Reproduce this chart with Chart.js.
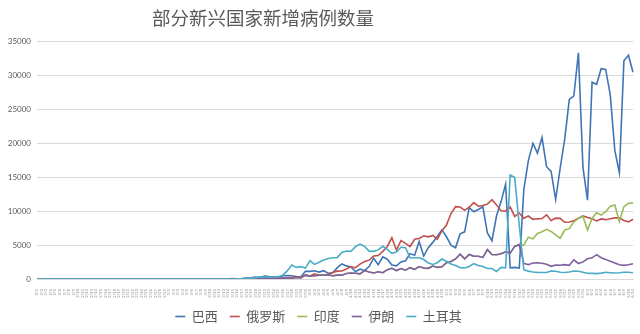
<!DOCTYPE html>
<html>
<head>
<meta charset="utf-8">
<script src="https://cdn.jsdelivr.net/npm/chart.js@4.4.0/dist/chart.umd.min.js"></script>
<style>
  html, body { margin: 0; padding: 0; background: #fff; }
  #wrap { position: relative; width: 640px; height: 334px; }
  #title {
    position: absolute; left: 0; top: 5px; width: 526px;
    text-align: center; line-height: 24px;
    font-family: "Noto Sans CJK SC", sans-serif; font-size: 18.5px; color: #595959;
  }
</style>
</head>
<body>
<div id="wrap">
  <div id="title">部分新兴国家新增病例数量</div>
  <canvas id="chart" width="640" height="334"></canvas>
</div>
<script>
// Dates: 2/1 .. 6/11
const months = [2, 3, 4, 5, 6];
const monthDays = [29, 31, 30, 31, 11];
const dates = [];
months.forEach((m, k) => {
    for (let d = 1; d <= monthDays[k]; d++) dates.push(m + '/' + d);
});

const seriesNames = ['巴西', '俄罗斯', '印度', '伊朗', '土耳其'];
const yTicks = [0, 5000, 10000, 15000, 20000, 25000, 30000, 35000];

// 巴西
const brazil = [
    0,0,0,0,0,0,0,0,0,0,0,0,0,0,0,0,0,0,0,0,0,0,0,0,0,1,0,0,1,
    0,0,0,1,5,5,6,6,5,6,18,25,21,23,79,34,57,137,193,283,224,418,345,310,232,482,502,487,352,323,1138,
    1119,1208,1012,1222,852,926,1661,2210,1930,1781,1089,1442,1261,1832,3058,2105,3257,2917,2055,1927,2498,2678,3735,3503,5514,3379,4613,5385,6276,7218,
    6209,4970,4588,6633,6935,10503,9888,10222,10611,6760,5632,9258,11385,13944,1635,1708,1610,13140,17408,19951,18508,20803,16508,15813,11687,16324,20599,26417,26928,33274,16409,
    11598,28936,28633,30925,30830,27075,18912,15654,32091,32913,30412
];
// 俄罗斯
const russia = [
    0,0,0,0,0,0,0,0,0,0,0,0,0,0,0,0,0,0,0,0,0,0,0,0,0,0,0,0,0,
    0,1,0,0,1,6,0,3,3,3,8,6,17,4,14,30,21,33,52,54,53,61,71,57,163,182,196,228,270,302,501,
    440,771,601,582,658,954,1154,1175,1459,1786,1667,2186,2558,2774,3388,3448,4070,4785,6060,4268,5642,5236,4774,5849,5966,6361,6198,6411,5841,7099,
    7933,9623,10633,10581,10102,10559,11231,10699,10817,11012,11656,10899,10028,9974,10598,9200,9709,8926,9263,8764,8849,8894,9434,8599,8946,8915,8338,8371,8572,8952,9268,
    9035,8863,8536,8831,8726,8855,8984,8985,8595,8404,8779
];
// 印度
const india = [
    0,0,0,0,0,0,0,0,0,0,0,0,0,0,0,0,0,0,0,0,0,0,0,0,0,0,0,0,0,
    0,2,1,22,2,1,3,5,9,15,8,10,10,12,11,23,12,26,50,80,89,103,37,121,70,160,100,106,227,146,601,
    424,486,560,579,609,484,573,565,813,871,854,758,1243,1031,886,1061,922,1371,1580,1239,1537,1292,1667,1408,1835,1607,1568,1902,1705,1801,
    2396,2564,2952,3656,2971,3602,3344,3339,3175,4311,3592,3562,3726,3991,3808,4794,5050,5000,6150,5900,6700,6950,7300,7000,6500,6000,7200,7400,8400,8900,9200,
    7200,8900,9750,9400,9900,10700,10880,8430,10630,11130,11200
];
// 伊朗
const iran = [
    0,0,0,0,0,0,0,0,0,0,0,0,0,0,0,0,0,0,0,0,0,0,0,0,0,0,0,0,0,
    0,2,1,22,2,1,3,5,9,15,8,10,10,12,11,23,12,26,50,80,89,103,37,121,70,160,100,106,227,146,601,
    424,486,560,579,609,484,573,565,813,871,854,758,1243,1031,886,1061,922,1371,1580,1239,1537,1292,1667,1408,1835,1607,1568,1902,1705,1801,
    2396,2564,2952,3656,2971,3602,3344,3339,3175,4311,3592,3562,3726,3991,3808,4794,5050,2294,2111,2346,2392,2311,2180,1869,2064,2023,2116,2013,2819,2282,2516,
    2979,3117,3574,3134,2886,2596,2364,2095,2011,2095,2238
];
// 土耳其
const turkey = [
    0,0,0,0,0,0,0,0,0,0,0,0,0,0,0,0,0,0,0,0,0,0,0,0,0,0,0,0,0,
    0,0,0,0,0,0,0,0,0,0,1,0,4,0,1,12,29,51,93,168,311,277,289,293,343,561,1196,2069,1704,1815,1610,
    2704,2148,2456,2786,3013,3135,3148,3892,4117,4056,4747,5138,4789,4093,4062,4281,4801,4353,3783,3977,4674,4611,3083,3116,3122,2861,2357,2131,2392,2936,
    2615,2188,1983,1670,1614,1832,2253,1977,1848,1546,1542,1114,1704,1639,15305,14919,7938,1368,1158,1022,972,961,952,1186,1141,987,948,1035,1182,1141,983,
    839,827,786,867,988,930,878,914,989,993,922
];

const colors = ['#3f75b5', '#c0504d', '#9bbb59', '#7e5fa0', '#4bacc6'];
const values = [brazil, russia, india, iran, turkey];

// later series drawn on top, like the original
const datasets = seriesNames.map((name, k) => ({
    label: name,
    data: values[k],
    order: seriesNames.length - k,
    borderColor: colors[k],
    backgroundColor: colors[k],
    borderWidth: 1.6,
    pointRadius: 0,
    pointHoverRadius: 0,
    fill: false,
    tension: 0
}));

new Chart(document.getElementById('chart'), {
    type: 'line',
    data: { labels: dates, datasets: datasets },
    options: {
        responsive: false,
        animation: false,
        layout: { padding: { left: 4, right: 7, top: 41, bottom: 1 } },
        plugins: {
            title: { display: false },
            legend: {
                position: 'bottom',
                labels: {
                    color: '#595959',
                    font: { family: '"Noto Sans CJK SC"', size: 13 },
                    usePointStyle: true,
                    pointStyle: 'line',
                    pointStyleWidth: 10,
                    boxHeight: 10,
                    padding: 12,
                    sort: (a, b) => a.datasetIndex - b.datasetIndex
                }
            },
            tooltip: { enabled: false }
        },
        scales: {
            y: {
                min: 0,
                max: 35000,
                afterBuildTicks: (s) => { s.ticks = yTicks.map(v => ({ value: v })); },
                afterFit: (s) => { s.width = 33; },
                border: { display: false },
                grid: { color: '#d9d9d9', drawTicks: false },
                ticks: {
                    color: '#595959',
                    padding: 6,
                    font: { family: 'Lato', size: 8 },
                    callback: (v) => String(v)
                }
            },
            x: {
                afterFit: (s) => { s.height = 19; },
                border: { color: '#d9d9d9' },
                grid: { display: false },
                ticks: {
                    color: '#8c8c8c',
                    autoSkip: false,
                    minRotation: 90,
                    maxRotation: 90,
                    padding: 2,
                    font: { family: 'Lato', size: 4 }
                }
            }
        }
    }
});
</script>
</body>
</html>
